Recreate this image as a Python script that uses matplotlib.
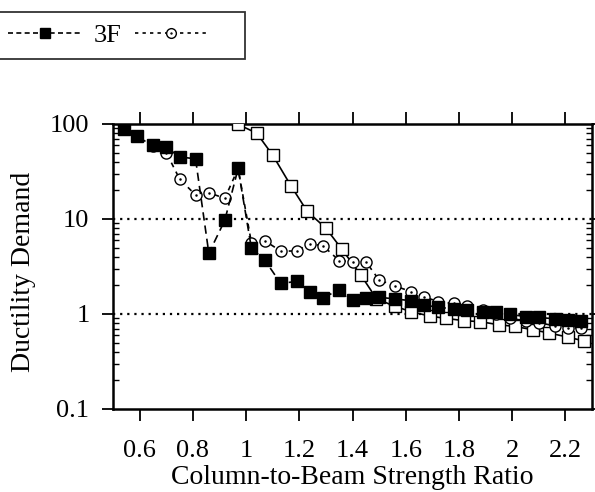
import matplotlib
matplotlib.use("Agg")
import matplotlib.pyplot as plt
from matplotlib.lines import Line2D
from matplotlib.path import Path
from matplotlib.ticker import FixedLocator, LogLocator, NullFormatter

# column-to-beam strength ratio (shared by the 3F and circle series)
ratio = [0.54, 0.59, 0.65, 0.70, 0.75, 0.81, 0.86, 0.92, 0.97, 1.02, 1.07,
         1.13, 1.19, 1.24, 1.29, 1.35, 1.40, 1.45, 1.50, 1.56, 1.62, 1.67,
         1.72, 1.78, 1.83, 1.89, 1.94, 1.99, 2.05, 2.10, 2.16, 2.21, 2.26]

# 3F, filled squares
demand_3f = [88, 75, 60, 57, 45, 43, 4.35, 9.7, 34, 4.9, 3.7,
             2.1, 2.2, 1.72, 1.49, 1.79, 1.4, 1.49, 1.5, 1.44, 1.38, 1.24,
             1.18, 1.13, 1.1, 1.06, 1.04, 0.99, 0.94, 0.92, 0.89, 0.86, 0.84]

# open circles with dot
demand_circ = [88, 75, 58, 50, 26.4, 17.9, 18.9, 16.5, 34, 5.6, 5.9,
               4.6, 4.6, 5.5, 5.2, 3.64, 3.55, 3.55, 2.28, 1.97, 1.72, 1.52,
               1.35, 1.29, 1.2, 1.1, 1.0, 0.9, 0.85, 0.81, 0.75, 0.72, 0.71]

# open squares, solid line
ratio_sq = [0.97, 1.04, 1.10, 1.17, 1.23, 1.30, 1.36, 1.43, 1.49, 1.56,
            1.62, 1.69, 1.75, 1.82, 1.88, 1.95, 2.01, 2.08, 2.14, 2.21, 2.27]
demand_sq = [99, 80, 47, 22, 12, 8.0, 4.8, 2.6, 1.45, 1.2,
             1.06, 0.95, 0.9, 0.85, 0.83, 0.77, 0.74, 0.68, 0.63, 0.57, 0.52]

xticks = [0.6, 0.8, 1.0, 1.2, 1.4, 1.6, 1.8, 2.0, 2.2]
xtick_labels = ["0.6", "0.8", "1", "1.2", "1.4", "1.6", "1.8", "2", "2.2"]
yticks = [0.1, 1, 10, 100]
ytick_labels = ["0.1", "1", "10", "100"]

plt.rcParams["font.family"] = ["Liberation Serif", "DejaVu Serif"]

# circle with a dot in it
dot_circle = Path.make_compound_path(Path.circle((0, 0), 1.0),
                                     Path.circle((0, 0), 0.1))

fig = plt.figure(figsize=(5.95, 4.92), dpi=100)
ax = fig.add_axes([0.190, 0.1687, 0.805, 0.5793])

ax.plot(ratio_sq, demand_sq, color="black", lw=1.2, marker="s", ms=8,
        mfc="white", mec="black", mew=1.0, zorder=3)
ax.plot(ratio, demand_circ, color="black", lw=1.2, ls=(0, (3, 3)),
        marker=dot_circle, ms=8, mfc="white", mec="black", mew=1.0, zorder=4)
ax.plot(ratio, demand_3f, color="black", lw=1.2, ls=(0, (5, 3)),
        marker="s", ms=8.5, mfc="black", mec="black", zorder=5)

ax.set_yscale("log")
ax.set_xlim(0.5, 2.3)
ax.set_ylim(0.1, 100)

# dotted lines at 1 and 10
for val in [1, 10]:
  ax.axhline(val, color="black", lw=1.6, ls=(0, (1, 2.2)), zorder=1)

ax.xaxis.set_major_locator(FixedLocator(xticks))
ax.set_xticklabels(xtick_labels)
ax.yaxis.set_major_locator(FixedLocator(yticks))
ax.set_yticklabels(ytick_labels)
ax.yaxis.set_minor_locator(LogLocator(base=10, subs=range(2, 10)))
ax.yaxis.set_minor_formatter(NullFormatter())

ax.tick_params(axis="x", which="major", direction="out", top=True,
               length=8.5, width=1.3, labelsize=19, pad=14)
ax.tick_params(axis="y", which="major", direction="out", right=True,
               length=8, width=1.3, labelsize=19, pad=9)
ax.tick_params(axis="y", which="minor", direction="in", right=True,
               length=4.5, width=1.0)

for sp in ax.spines.values():
  sp.set_linewidth(1.8)

ax.set_xlabel("Column-to-Beam Strength Ratio", fontsize=20, labelpad=2)
ax.set_ylabel("Ductility Demand", fontsize=20)
ax.yaxis.set_label_coords(-0.160, 0.48)

# legend, partly off the left edge like the scan
h1 = Line2D([], [], color="black", lw=1.2, ls=(0, (3, 2)), marker="s",
            ms=7.5, mfc="black", mec="black")
h2 = Line2D([], [], color="black", lw=1.2, ls=(0, (2, 2.5)),
            marker=dot_circle, ms=7, mfc="white", mec="black", mew=1.0)
leg = fig.legend([h1, h2], ["3F", "  "], ncol=2, loc="upper left",
                 bbox_to_anchor=(-0.007, 0.9756), borderaxespad=0,
                 fontsize=19, frameon=True, fancybox=False,
                 edgecolor="black", handlelength=2.8, handletextpad=0.45,
                 columnspacing=0.5, borderpad=0.45)
leg.get_frame().set_linewidth(1.3)

fig.savefig("out.png", dpi=100)
